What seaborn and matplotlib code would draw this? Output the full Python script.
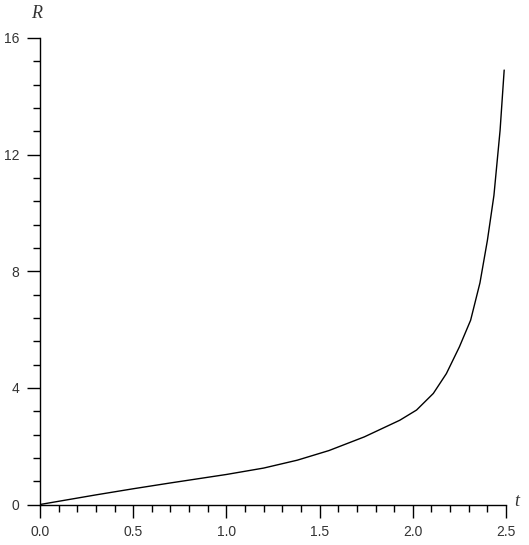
import numpy as np
import pandas as pd
import matplotlib.pyplot as plt
import seaborn as sns
from matplotlib.ticker import MultipleLocator

# values
t_vals = [0.0, 0.1, 0.3, 0.5, 0.7, 1.0, 1.2, 1.38, 1.55, 1.74, 1.93, 2.02, 2.11,
          2.18, 2.25, 2.31, 2.36, 2.40, 2.435, 2.468, 2.49]
R_vals = [0.0, 0.11, 0.33, 0.54, 0.74, 1.03, 1.25, 1.52, 1.85, 2.32, 2.89, 3.24, 3.81,
          4.49, 5.41, 6.32, 7.6, 9.06, 10.6, 12.83, 14.9]

x_ticks = [0.0, 0.5, 1.0, 1.5, 2.0, 2.5]
y_ticks = [0, 4, 8, 12, 16]

df = pd.DataFrame({"t": t_vals, "R": R_vals})

sns.set_style("ticks")
plt.rcParams["font.family"] = ["Liberation Sans", "DejaVu Sans"]
fig = plt.figure(figsize=(5.29, 5.45), dpi=100)
ax = fig.add_axes([0.0756, 0.0743, 0.881, 0.856])

sns.lineplot(data=df, x="t", y="R", color="black", linewidth=1.0, ax=ax)

ax.set_xlim(0, 2.5)
ax.set_ylim(0, 16)
ax.set_xticks(x_ticks)
ax.set_xticklabels([f"{v:.1f}" for v in x_ticks])
ax.set_yticks(y_ticks)
ax.set_yticklabels([str(v) for v in y_ticks])
ax.xaxis.set_minor_locator(MultipleLocator(0.1))
ax.yaxis.set_minor_locator(MultipleLocator(0.8))

sns.despine(ax=ax)
for side in ["left", "bottom"]:
    ax.spines[side].set_linewidth(1.0)
    ax.spines[side].set_color("black")

ax.tick_params(axis="both", which="major", length=9.5, width=1.0, color="black",
               labelsize=10, labelcolor="#333333", pad=5.5)
ax.tick_params(axis="both", which="minor", length=5, width=1.0, color="black")

ax.set_xlabel("")
ax.set_ylabel("")
ax.text(2.545, 0.1, "t", fontsize=13, fontstyle="italic", family="Liberation Serif",
        color="#333333", ha="left", va="center", clip_on=False)
ax.text(-0.02, 16.55, "R", fontsize=13, fontstyle="italic", family="Liberation Serif",
        color="#333333", ha="center", va="bottom", clip_on=False)

fig.savefig("out.png", dpi=100)
